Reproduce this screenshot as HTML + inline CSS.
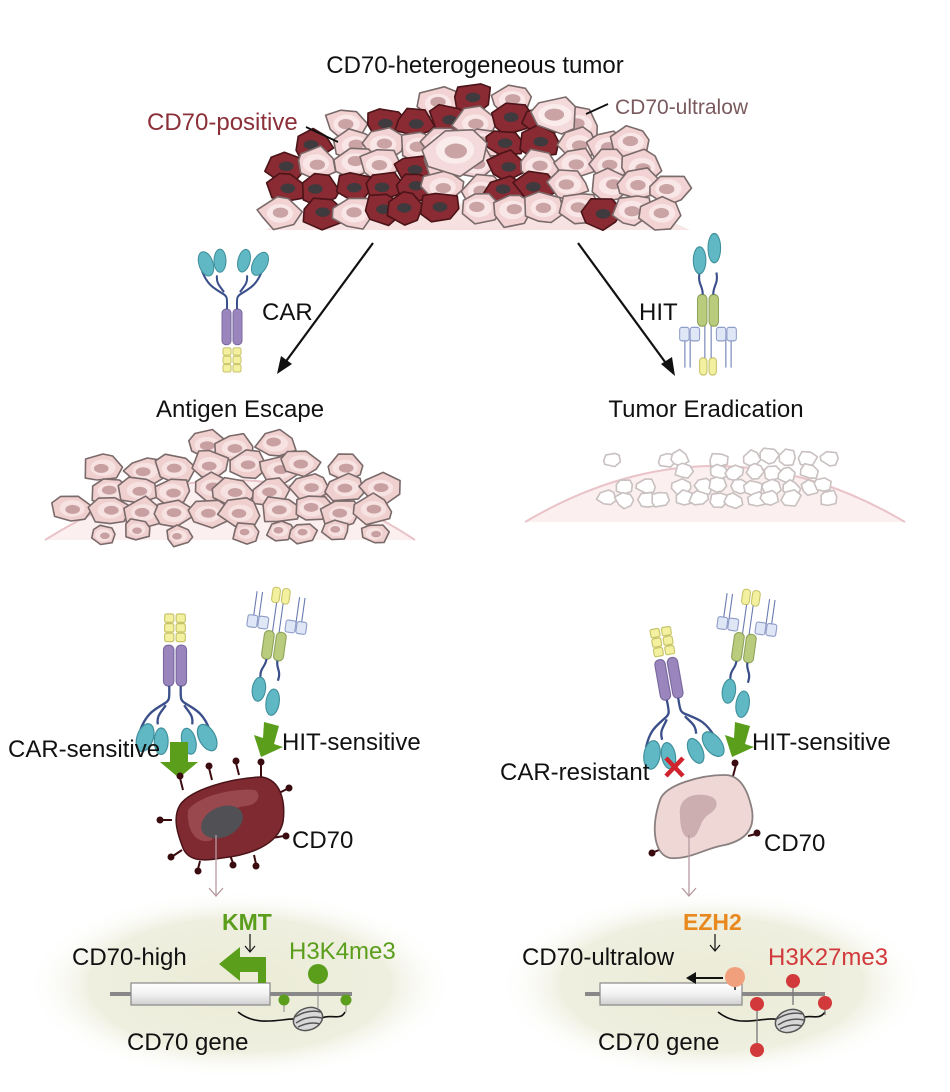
<!DOCTYPE html>
<html><head><meta charset="utf-8"><style>
html,body{margin:0;padding:0;background:#fff;}
svg{display:block;font-family:"Liberation Sans",Arial,sans-serif;}
</style></head><body>
<svg id="s" width="950" height="1092" viewBox="0 0 950 1092" xmlns="http://www.w3.org/2000/svg">
<defs>
<radialGradient id="dome" cx="50%" cy="100%" r="60%"><stop offset="0" stop-color="#f6dede"/><stop offset="0.85" stop-color="#f8e6e6"/><stop offset="1" stop-color="#fff" stop-opacity="0"/></radialGradient>
<radialGradient id="glow" cx="50%" cy="50%" r="50%"><stop offset="0" stop-color="#ebebd6"/><stop offset="0.7" stop-color="#efefe0"/><stop offset="1" stop-color="#fff" stop-opacity="0"/></radialGradient>
<linearGradient id="cyl" x1="0" y1="0" x2="0" y2="1"><stop offset="0" stop-color="#fff"/><stop offset="0.5" stop-color="#f2f2f2"/><stop offset="1" stop-color="#cfcfcf"/></linearGradient>
<g id="car">
 <rect x="-9" y="0" width="8" height="7" rx="1.5" fill="#f3f0a0" stroke="#c8c46a"/>
 <rect x="1" y="0" width="8" height="7" rx="1.5" fill="#f3f0a0" stroke="#c8c46a"/>
 <rect x="-9" y="8" width="8" height="7" rx="1.5" fill="#f3f0a0" stroke="#c8c46a"/>
 <rect x="1" y="8" width="8" height="7" rx="1.5" fill="#f3f0a0" stroke="#c8c46a"/>
 <rect x="-9" y="16" width="8" height="7" rx="1.5" fill="#f3f0a0" stroke="#c8c46a"/>
 <rect x="1" y="16" width="8" height="7" rx="1.5" fill="#f3f0a0" stroke="#c8c46a"/>
 <rect x="-10" y="26" width="9" height="34" rx="4" fill="#9a86bd" stroke="#7a68a0"/>
 <rect x="1" y="26" width="9" height="34" rx="4" fill="#9a86bd" stroke="#7a68a0"/>
 <path d="M-5 60 C-5 70 -4 72 -10 75 C-18 80 -24 82 -30 96 M5 60 C5 70 4 72 10 75 C18 80 24 82 30 96 M-8 76 C-12 82 -16 84 -15 92 M8 76 C12 82 16 84 15 92" stroke="#3a4f8a" stroke-width="2" fill="none"/>
 <ellipse cx="-26" cy="103" rx="7" ry="12" transform="rotate(20 -26 103)" fill="#5fb8c4" stroke="#3f8f9b"/>
 <ellipse cx="-12" cy="106" rx="6" ry="11" fill="#5fb8c4" stroke="#3f8f9b"/>
 <ellipse cx="12" cy="106" rx="6" ry="11" transform="rotate(-15 12 106)" fill="#5fb8c4" stroke="#3f8f9b"/>
 <ellipse cx="28" cy="103" rx="7" ry="12" transform="rotate(-30 28 103)" fill="#5fb8c4" stroke="#3f8f9b"/>
</g>
<g id="hit">
 <rect x="-8" y="0" width="7" height="14" rx="3" fill="#f3f0a0" stroke="#c8c46a"/>
 <rect x="1" y="0" width="7" height="14" rx="3" fill="#f3f0a0" stroke="#c8c46a"/>
 <path d="M-22 6 V30 M-17 6 V30 M17 6 V30 M22 6 V30 M-3 14 V50 M3 14 V50" stroke="#6a7ab0" stroke-width="1"/>
 <rect x="-27" y="28" width="9" height="11" rx="2" fill="#dfe6f6" stroke="#8e9cc8"/>
 <rect x="-17" y="28" width="9" height="11" rx="2" fill="#dfe6f6" stroke="#8e9cc8"/>
 <rect x="8" y="28" width="9" height="11" rx="2" fill="#dfe6f6" stroke="#8e9cc8"/>
 <rect x="18" y="28" width="9" height="11" rx="2" fill="#dfe6f6" stroke="#8e9cc8"/>
 <rect x="-10" y="40" width="9" height="26" rx="4" fill="#b9cc7e" stroke="#8ea35a"/>
 <rect x="1" y="40" width="9" height="26" rx="4" fill="#b9cc7e" stroke="#8ea35a"/>
 <path d="M-5 66 C-5 74 -10 74 -8 84 M5 66 C5 74 10 74 8 84" stroke="#3a4f8a" stroke-width="2" fill="none"/>
 <ellipse cx="-8" cy="94" rx="6" ry="11" fill="#5fb8c4" stroke="#3f8f9b"/>
 <ellipse cx="6" cy="104" rx="6" ry="12" fill="#5fb8c4" stroke="#3f8f9b"/>
</g>
<g id="nuc">
 <ellipse cx="0" cy="0" rx="15" ry="11" transform="rotate(-20)" fill="#d8d8d8" stroke="#555" stroke-width="1.5"/>
 <path d="M-13 -2 Q0 -10 13 -7 M-12 4 Q0 -4 14 -1 M-10 8 Q2 2 12 5" stroke="#555" stroke-width="1.5" fill="none"/>
</g>
</defs>

<path d="M265 230 Q475 130 690 230 Z" fill="url(#dome)"/>
<g id="topcells"></g>
<path d="M45 540 Q235 420 415 540 Z" fill="#fbeff0"/>
<path d="M45 540 Q235 420 415 540" stroke="#e9c3c8" stroke-width="2" fill="none"/>
<g id="leftcells"></g>
<path d="M525 522 Q715 410 905 522 Z" fill="#fbeff0"/>
<path d="M525 522 Q715 410 905 522" stroke="#e9c3c8" stroke-width="2" fill="none"/>
<g id="rightcells"></g>

<text x="475" y="73" font-size="24" text-anchor="middle" fill="#111">CD70-heterogeneous tumor</text>
<text x="147" y="130" font-size="24" fill="#8b3038">CD70-positive</text>
<line x1="306" y1="127" x2="338" y2="142" stroke="#111" stroke-width="1.8"/>
<text x="615" y="114" font-size="21" fill="#7a5a5e">CD70-ultralow</text>
<line x1="586" y1="114" x2="608" y2="104" stroke="#111" stroke-width="1.8"/>

<line x1="373" y1="243" x2="284" y2="364" stroke="#111" stroke-width="2.2"/>
<path d="M277 374 L281 356 L292 364 Z" fill="#111"/>
<line x1="578" y1="243" x2="668" y2="366" stroke="#111" stroke-width="2.2"/>
<path d="M675 376 L661 364 L672 357 Z" fill="#111"/>
<text x="262" y="320" font-size="24" fill="#111">CAR</text>
<text x="639" y="320" font-size="24" fill="#111">HIT</text>
<use href="#car" transform="translate(232,372) scale(1,-1.05)"/>
<use href="#hit" transform="translate(708,375) scale(1.05,-1.22)"/>

<text x="240" y="417" font-size="24" text-anchor="middle" fill="#111">Antigen Escape</text>
<text x="706" y="417" font-size="24" text-anchor="middle" fill="#111">Tumor Eradication</text>

<ellipse cx="240" cy="985" rx="215" ry="95" fill="url(#glow)"/>
<ellipse cx="712" cy="985" rx="215" ry="95" fill="url(#glow)"/>

<use href="#car" transform="translate(175,614) scale(1.15,1.2)"/>
<use href="#hit" transform="translate(282,588) rotate(8) scale(1.1,1.1)"/>
<path d="M170 742 h18 v20 h10 l-19 16 l-19 -16 h10 z" fill="#5a9e1c"/>
<path d="M264 722 l15 4 l-5 18 l9 3 l-22 10 l-7 -22 l9 3 z" fill="#5a9e1c"/>
<text x="8" y="757" font-size="24" fill="#111">CAR-sensitive</text>
<text x="282" y="750" font-size="24" fill="#111">HIT-sensitive</text>

<g stroke="#3a0c10" stroke-width="2">
<line x1="183" y1="790" x2="180" y2="778"/><line x1="212" y1="780" x2="209" y2="768"/><line x1="239" y1="775" x2="236" y2="763"/><line x1="261" y1="777" x2="261" y2="764"/>
<line x1="275" y1="795" x2="287" y2="789"/><line x1="172" y1="820" x2="162" y2="820"/><line x1="182" y1="850" x2="173" y2="856"/><line x1="200" y1="861" x2="198" y2="869"/>
<line x1="230" y1="855" x2="233" y2="863"/><line x1="254" y1="855" x2="256" y2="864"/><line x1="272" y1="838" x2="284" y2="836"/>
</g>
<g fill="#3a0c10">
<circle cx="180" cy="776" r="3.5"/><circle cx="209" cy="766" r="3.5"/><circle cx="236" cy="761" r="3.5"/><circle cx="261" cy="762" r="3.5"/>
<circle cx="289" cy="788" r="3.5"/><circle cx="160" cy="820" r="3.5"/><circle cx="171" cy="857" r="3.5"/><circle cx="198" cy="871" r="3.5"/>
<circle cx="233" cy="865" r="3.5"/><circle cx="256" cy="866" r="3.5"/><circle cx="286" cy="836" r="3.5"/>
</g>
<path d="M180 805 C190 790 230 778 262 777 C280 780 286 800 283 822 C278 845 250 855 222 858 C200 862 188 860 183 848 C178 835 172 818 180 805 Z" fill="#7e2a30" stroke="#4a1418" stroke-width="1.5"/>
<path d="M188 810 C200 795 235 788 255 790 C262 795 258 805 245 806 C230 808 215 820 212 840 C200 845 186 835 188 810 Z" fill="#a05056" opacity="0.8"/>
<ellipse cx="222" cy="822" rx="22" ry="15" transform="rotate(-25 222 822)" fill="#505055"/>
<text x="292" y="848" font-size="24" fill="#111">CD70</text>
<line x1="216" y1="835" x2="216" y2="895" stroke="#b79aa0" stroke-width="1.3"/>
<path d="M209 888 L216 896 L223 888" stroke="#b79aa0" stroke-width="1.3" fill="none"/>

<text x="222" y="930" font-size="23" font-weight="bold" fill="#5a9e1c">KMT</text>
<line x1="250" y1="934" x2="250" y2="951" stroke="#111" stroke-width="1.2"/>
<path d="M245 946 L250 952 L255 946" stroke="#111" stroke-width="1.2" fill="none"/>
<text x="72" y="965" font-size="24" fill="#111">CD70-high</text>
<text x="289" y="959" font-size="24" fill="#5a9e1c">H3K4me3</text>
<line x1="110" y1="994" x2="352" y2="994" stroke="#888" stroke-width="4"/>
<rect x="131" y="983" width="139" height="22" fill="url(#cyl)" stroke="#888" stroke-width="1.2"/>
<path d="M262 993 V967 H236 V957 L215 974 L236 991 V982 H254 V993 Z" fill="#5a9e1c" transform="translate(4,-10)"/>
<path d="M238 1012 C260 1030 290 1015 300 1020 M318 1020 C330 1012 340 1022 345 1012" stroke="#111" stroke-width="1.6" fill="none"/>
<use href="#nuc" transform="translate(308,1019)"/>
<line x1="284" y1="1000" x2="284" y2="1012" stroke="#888"/><circle cx="284" cy="1000" r="5.5" fill="#5a9e1c"/>
<line x1="346" y1="1000" x2="346" y2="1012" stroke="#888"/><circle cx="346" cy="1000" r="5.5" fill="#5a9e1c"/>
<line x1="318" y1="975" x2="318" y2="1008" stroke="#888"/><circle cx="318" cy="974" r="10" fill="#5a9e1c"/>
<text x="127" y="1050" font-size="24" fill="#111">CD70 gene</text>

<use href="#car" transform="translate(660,628) rotate(-10) scale(1.15,1.2)"/>
<use href="#hit" transform="translate(752,590) rotate(8) scale(1.1,1.1)"/>
<path d="M735 722 l15 4 l-5 18 l9 3 l-22 10 l-7 -22 l9 3 z" fill="#5a9e1c"/>
<text x="752" y="750" font-size="24" fill="#111">HIT-sensitive</text>
<text x="500" y="780" font-size="24" fill="#111">CAR-resistant</text>
<path d="M666 758 L683 776 M683 758 L666 776" stroke="#d0232e" stroke-width="4.5"/>

<g stroke="#3a0c10" stroke-width="2"><line x1="736" y1="765" x2="733" y2="776"/><line x1="748" y1="836" x2="756" y2="834"/><line x1="664" y1="848" x2="654" y2="852"/></g>
<g fill="#3a0c10"><circle cx="735" cy="763" r="3.5"/><circle cx="757" cy="833" r="3.5"/><circle cx="652" cy="853" r="3.5"/></g>
<path d="M660 800 C665 785 700 775 725 775 C740 775 748 790 752 810 C755 830 745 840 725 845 C705 848 690 860 670 858 C655 855 650 830 660 800 Z" fill="#efd7d6" stroke="#8a8080" stroke-width="1.8"/>
<path d="M680 815 C678 800 690 793 705 795 C720 797 720 808 708 815 C698 822 700 838 690 838 C682 838 680 825 680 815 Z" fill="#c6a7a9" opacity="0.85"/>
<text x="764" y="851" font-size="24" fill="#111">CD70</text>
<line x1="689" y1="835" x2="689" y2="895" stroke="#b79aa0" stroke-width="1.3"/>
<path d="M682 888 L689 896 L696 888" stroke="#b79aa0" stroke-width="1.3" fill="none"/>

<text x="683" y="930" font-size="23" font-weight="bold" fill="#e8891f">EZH2</text>
<line x1="715" y1="934" x2="715" y2="950" stroke="#111" stroke-width="1.2"/>
<path d="M710 945 L715 951 L720 945" stroke="#111" stroke-width="1.2" fill="none"/>
<text x="522" y="965" font-size="24" fill="#111">CD70-ultralow</text>
<text x="768" y="965" font-size="24" fill="#d1393b">H3K27me3</text>
<line x1="585" y1="994" x2="825" y2="994" stroke="#888" stroke-width="4"/>
<rect x="600" y="983" width="142" height="22" fill="url(#cyl)" stroke="#888" stroke-width="1.2"/>
<line x1="735" y1="979" x2="735" y2="990" stroke="#111" stroke-width="1.4"/>
<line x1="690" y1="978" x2="723" y2="978" stroke="#111" stroke-width="2"/>
<path d="M696 972 L686 978 L696 984 Z" fill="#111"/>
<circle cx="735" cy="977" r="10" fill="#f0a07c"/>
<path d="M718 1012 C740 1030 765 1015 780 1020 M798 1020 C810 1012 818 1022 825 1012" stroke="#111" stroke-width="1.6" fill="none"/>
<use href="#nuc" transform="translate(790,1021)"/>
<line x1="757" y1="1001" x2="757" y2="1048" stroke="#777" stroke-width="1.3"/>
<circle cx="757" cy="1004" r="7" fill="#d1393b"/><circle cx="757" cy="1050" r="7" fill="#d1393b"/>
<line x1="793" y1="982" x2="793" y2="1005" stroke="#777" stroke-width="1.3"/><circle cx="793" cy="981" r="7" fill="#d1393b"/>
<line x1="825" y1="1003" x2="825" y2="1015" stroke="#777" stroke-width="1.3"/><circle cx="825" cy="1003" r="7" fill="#d1393b"/>
<text x="598" y="1050" font-size="24" fill="#111">CD70 gene</text>
</svg>
<script>
(function(){
var seed=7;function r(){seed=(seed*16807)%2147483647;return (seed-1)/2147483646;}
var NS="http://www.w3.org/2000/svg";
function cell(g,cx,cy,w,h,fill,stroke,nfill,hl){
 var n=7,pts=[],a0=r()*6.28;
 for(var i=0;i<n;i++){var a=a0+i*6.283/n+(r()-.5)*.5,k=.8+r()*.3;pts.push((cx+Math.cos(a)*w*k).toFixed(1)+","+(cy+Math.sin(a)*h*k).toFixed(1));}
 var p=document.createElementNS(NS,"polygon");p.setAttribute("points",pts.join(" "));p.setAttribute("fill",fill);p.setAttribute("stroke",stroke);p.setAttribute("stroke-width","1.6");p.setAttribute("stroke-linejoin","round");g.appendChild(p);
 if(hl){var q=document.createElementNS(NS,"ellipse");q.setAttribute("cx",cx);q.setAttribute("cy",cy);q.setAttribute("rx",w*.6);q.setAttribute("ry",h*.55);q.setAttribute("fill",hl);g.appendChild(q);}
 if(nfill){var e=document.createElementNS(NS,"ellipse");e.setAttribute("cx",cx+(r()-.5)*4);e.setAttribute("cy",cy+(r()-.5)*3);e.setAttribute("rx",w*.35);e.setAttribute("ry",h*.3);e.setAttribute("fill",nfill);g.appendChild(e);}
}
var g=document.getElementById("topcells");
var cells=[];
for(var y=100;y<=225;y+=22){for(var x=285;x<=670;x+=32){
 var dy=(y-100)/125; var half=((x-475)/195); if(half*half+ (1-dy)*(1-dy)*1.2>1.25) continue;
 cells.push([x+(r()-.5)*14,y+(r()-.5)*8]);}}
cells.forEach(function(c){
 var dark=r()<(c[0]<560?0.45:0.3);
 if(dark) cell(g,c[0],c[1],21,16,"#8a2a33","#4a1418","#3f3a3d");
 else cell(g,c[0],c[1],22,17,"#f2d2d2","#7a6a6a","#caa3a5","#f9e6e6");
});
cell(g,455,150,32,25,"#f4dada","#7a6a6a","#caa3a5","#fbecec");
cell(g,555,115,28,20,"#f4dada","#7a6a6a","#caa3a5","#fbecec");
var gl=document.getElementById("leftcells");
for(var y=445;y<=540;y+=22){for(var x=70;x<=390;x+=34){
 var dx=(x-235)/175,dy=(540-y)/100; if(dx*dx+dy*dy*dy>0.95&&y<500) continue; if(y>520&&r()<.5) continue;
 cell(gl,x+(r()-.5)*14,y+(r()-.5)*8,y>515?14:21,y>515?11:15,"#f0cfcf","#7a6a6a","#c9a0a2","#f7e2e2");}}
var gr=document.getElementById("rightcells");
for(var y=458;y<=505;y+=14){for(var x=610;x<=840;x+=18){
 var dx=(x-720)/120; if(dx*dx>0.9||r()<.25) continue;
 cell(gr,x+(r()-.5)*8,y+(r()-.5)*5,10,8,"#ffffff","#c9c0c0",null,null);}}
})();
</script>
</body></html>
